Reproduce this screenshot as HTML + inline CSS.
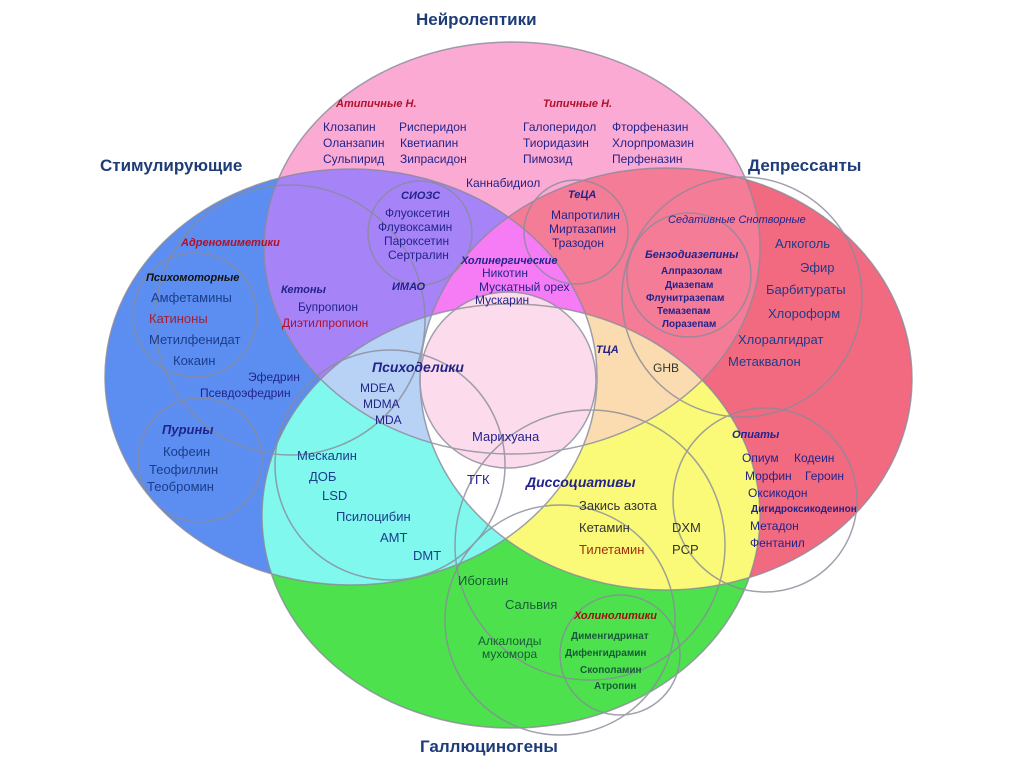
<!DOCTYPE html>
<html><head><meta charset="utf-8"><style>
html,body{margin:0;padding:0;background:#fff;}
svg{display:block;font-family:"Liberation Sans","DejaVu Sans",sans-serif;}
.t{font-size:17px;font-weight:bold;fill:#1e3c78;}
.h{font-size:11px;font-weight:bold;font-style:italic;fill:#23238a;}
.r{font-size:11px;font-weight:bold;font-style:italic;fill:#b0102a;}
.i{font-size:12px;fill:#23238a;}
.b{font-size:13px;fill:#1c3c8c;}
.s{font-size:10px;font-weight:bold;fill:#23238a;}
</style></head><body>
<svg width="1024" height="767" viewBox="0 0 1024 767">
<defs>
<clipPath id="cA"><ellipse cx="512" cy="248" rx="248" ry="206"/></clipPath>
<clipPath id="cB"><ellipse cx="351" cy="377" rx="246" ry="208"/></clipPath>
<clipPath id="cC"><ellipse cx="666" cy="379" rx="246" ry="211"/></clipPath>
<clipPath id="cG"><ellipse cx="511" cy="516" rx="249" ry="212"/></clipPath>
</defs>
<rect width="1024" height="767" fill="#fff"/>
<ellipse cx="512" cy="248" rx="248" ry="206" fill="#fbabd3"/>
<ellipse cx="351" cy="377" rx="246" ry="208" fill="#5b8ef0"/>
<ellipse cx="666" cy="379" rx="246" ry="211" fill="#f26a80"/>
<ellipse cx="511" cy="516" rx="249" ry="212" fill="#4de24d"/>
<g clip-path="url(#cA)"><rect width="1024" height="767" fill="#a684f8" clip-path="url(#cB)"/></g>
<g clip-path="url(#cA)"><rect width="1024" height="767" fill="#f57c96" clip-path="url(#cC)"/></g>
<g clip-path="url(#cG)"><rect width="1024" height="767" fill="#80f8ee" clip-path="url(#cB)"/></g>
<g clip-path="url(#cG)"><rect width="1024" height="767" fill="#fafa78" clip-path="url(#cC)"/></g>
<g clip-path="url(#cA)"><g clip-path="url(#cB)"><rect width="1024" height="767" fill="#f57cf5" clip-path="url(#cC)"/></g></g>
<g clip-path="url(#cA)"><g clip-path="url(#cB)"><rect width="1024" height="767" fill="#b8d2f6" clip-path="url(#cG)"/></g></g>
<g clip-path="url(#cA)"><g clip-path="url(#cC)"><rect width="1024" height="767" fill="#fadcb0" clip-path="url(#cG)"/></g></g>
<g clip-path="url(#cB)"><g clip-path="url(#cC)"><rect width="1024" height="767" fill="#ffffff" clip-path="url(#cG)"/></g></g>
<circle cx="508" cy="380" r="88" fill="#fcdcec"/>
<g fill="none" stroke="#8a8a9a" stroke-width="1.5" opacity="0.8">
<ellipse cx="512" cy="248" rx="248" ry="206"/>
<ellipse cx="351" cy="377" rx="246" ry="208"/>
<ellipse cx="666" cy="379" rx="246" ry="211"/>
<ellipse cx="511" cy="516" rx="249" ry="212"/>
<circle cx="508" cy="380" r="88"/>
<circle cx="420" cy="233" r="52"/>
<circle cx="576" cy="232" r="52"/>
<circle cx="742" cy="297" r="120"/>
<circle cx="689" cy="275" r="62"/>
<circle cx="290" cy="320" r="135"/>
<circle cx="195" cy="315" r="62"/>
<circle cx="200" cy="460" r="62"/>
<circle cx="390" cy="465" r="115"/>
<circle cx="590" cy="545" r="135"/>
<circle cx="765" cy="500" r="92"/>
<circle cx="620" cy="655" r="60"/>
<circle cx="560" cy="620" r="115"/>
</g>
<text class="t" x="416" y="25">Нейролептики</text>
<text class="t" x="100" y="171">Стимулирующие</text>
<text class="t" x="748" y="171">Депрессанты</text>
<text class="t" x="420" y="752">Галлюциногены</text>
<text class="r" x="336" y="107">Атипичные Н.</text>
<text class="r" x="543" y="107">Типичные Н.</text>
<text class="i" x="323" y="131">Клозапин</text><text class="i" x="399" y="131">Рисперидон</text>
<text class="i" x="323" y="147">Оланзапин</text><text class="i" x="400" y="147">Кветиапин</text>
<text class="i" x="323" y="163">Сульпирид</text><text class="i" x="400" y="163">Зипрасидон</text>
<text class="i" x="523" y="131">Галоперидол</text><text class="i" x="612" y="131">Фторфеназин</text>
<text class="i" x="523" y="147">Тиоридазин</text><text class="i" x="612" y="147">Хлорпромазин</text>
<text class="i" x="523" y="163">Пимозид</text><text class="i" x="612" y="163">Перфеназин</text>
<text class="i" x="466" y="187">Каннабидиол</text>
<text class="h" x="401" y="199">СИОЗС</text>
<text class="i" x="385" y="217">Флуоксетин</text>
<text class="i" x="378" y="231">Флувоксамин</text>
<text class="i" x="384" y="245">Пароксетин</text>
<text class="i" x="388" y="259">Сертралин</text>
<text class="h" x="568" y="198">ТеЦА</text>
<text class="i" x="551" y="219">Мапротилин</text>
<text class="i" x="549" y="233">Миртазапин</text>
<text class="i" x="552" y="247">Тразодон</text>
<text class="h" x="461" y="264">Холинергические</text>
<text class="i" x="482" y="277">Никотин</text>
<text class="i" x="479" y="291">Мускатный орех</text>
<text class="i" x="475" y="304">Мускарин</text>
<text class="h" x="392" y="290">ИМАО</text>
<text class="r" x="181" y="246">Адреномиметики</text>
<text class="h" x="146" y="281" style="fill:#111">Психомоторные</text>
<text class="h" x="281" y="293">Кетоны</text>
<text class="i" x="298" y="311">Бупропион</text>
<text class="i" x="282" y="327" style="fill:#b0102a">Диэтилпропион</text>
<text class="b" x="151" y="302">Амфетамины</text>
<text class="b" x="149" y="323" style="fill:#a0203a">Катиноны</text>
<text class="b" x="149" y="344">Метилфенидат</text>
<text class="b" x="173" y="365">Кокаин</text>
<text class="i" x="248" y="381">Эфедрин</text>
<text class="i" x="200" y="397">Псевдоэфедрин</text>
<text class="h" x="162" y="434" style="font-size:13px">Пурины</text>
<text class="b" x="163" y="456">Кофеин</text>
<text class="b" x="149" y="474">Теофиллин</text>
<text class="b" x="147" y="491">Теобромин</text>
<text class="h" x="372" y="372" style="font-size:14px">Психоделики</text>
<text class="i" x="360" y="392">MDEA</text>
<text class="i" x="363" y="408">MDMA</text>
<text class="i" x="375" y="424">MDA</text>
<text class="i" x="472" y="441" style="font-size:13px">Марихуана</text>
<text class="i" x="467" y="484" style="font-size:13px">ТГК</text>
<text class="b" x="297" y="460">Мескалин</text>
<text class="b" x="309" y="481">ДОБ</text>
<text class="b" x="322" y="500">LSD</text>
<text class="b" x="336" y="521">Псилоцибин</text>
<text class="b" x="380" y="542">АМТ</text>
<text class="b" x="413" y="560">DMT</text>
<text class="h" x="526" y="487" style="font-size:14px">Диссоциативы</text>
<text class="b" x="579" y="510" style="fill:#333">Закись азота</text>
<text class="b" x="579" y="532" style="fill:#333">Кетамин</text>
<text class="b" x="672" y="532" style="fill:#333">DXM</text>
<text class="b" x="579" y="554" style="fill:#a03010">Тилетамин</text>
<text class="b" x="672" y="554" style="fill:#333">PCP</text>
<text class="b" x="458" y="585" style="fill:#1a5a3a">Ибогаин</text>
<text class="b" x="505" y="609" style="fill:#1a5a3a">Сальвия</text>
<text class="i" x="478" y="645" style="fill:#1a5a3a">Алкалоиды</text>
<text class="i" x="482" y="658" style="fill:#1a5a3a">мухомора</text>
<text class="r" x="574" y="619" style="fill:#a01010">Холинолитики</text>
<text class="s" x="571" y="639" style="fill:#1a5a3a">Дименгидринат</text>
<text class="s" x="565" y="656" style="fill:#1a5a3a">Дифенгидрамин</text>
<text class="s" x="580" y="673" style="fill:#1a5a3a">Скополамин</text>
<text class="s" x="594" y="689" style="fill:#1a5a3a">Атропин</text>
<text class="h" x="596" y="353">ТЦА</text>
<text class="i" x="653" y="372" style="fill:#333">GHB</text>
<text class="h" x="668" y="223" style="font-weight:normal">Седативные Снотворные</text>
<text class="h" x="645" y="258">Бензодиазепины</text>
<text class="s" x="661" y="274">Алпразолам</text>
<text class="s" x="665" y="288">Диазепам</text>
<text class="s" x="646" y="301">Флунитразепам</text>
<text class="s" x="657" y="314">Темазепам</text>
<text class="s" x="662" y="327">Лоразепам</text>
<text class="b" x="775" y="248">Алкоголь</text>
<text class="b" x="800" y="272">Эфир</text>
<text class="b" x="766" y="294">Барбитураты</text>
<text class="b" x="768" y="318">Хлороформ</text>
<text class="b" x="738" y="344">Хлоралгидрат</text>
<text class="b" x="728" y="366">Метаквалон</text>
<text class="h" x="732" y="438">Опиаты</text>
<text class="i" x="742" y="462">Опиум</text><text class="i" x="794" y="462">Кодеин</text>
<text class="i" x="745" y="480">Морфин</text><text class="i" x="805" y="480">Героин</text>
<text class="i" x="748" y="497">Оксикодон</text>
<text class="s" x="751" y="512">Дигидроксикодеинон</text>
<text class="i" x="750" y="530">Метадон</text>
<text class="i" x="750" y="547">Фентанил</text>
</svg>
</body></html>
